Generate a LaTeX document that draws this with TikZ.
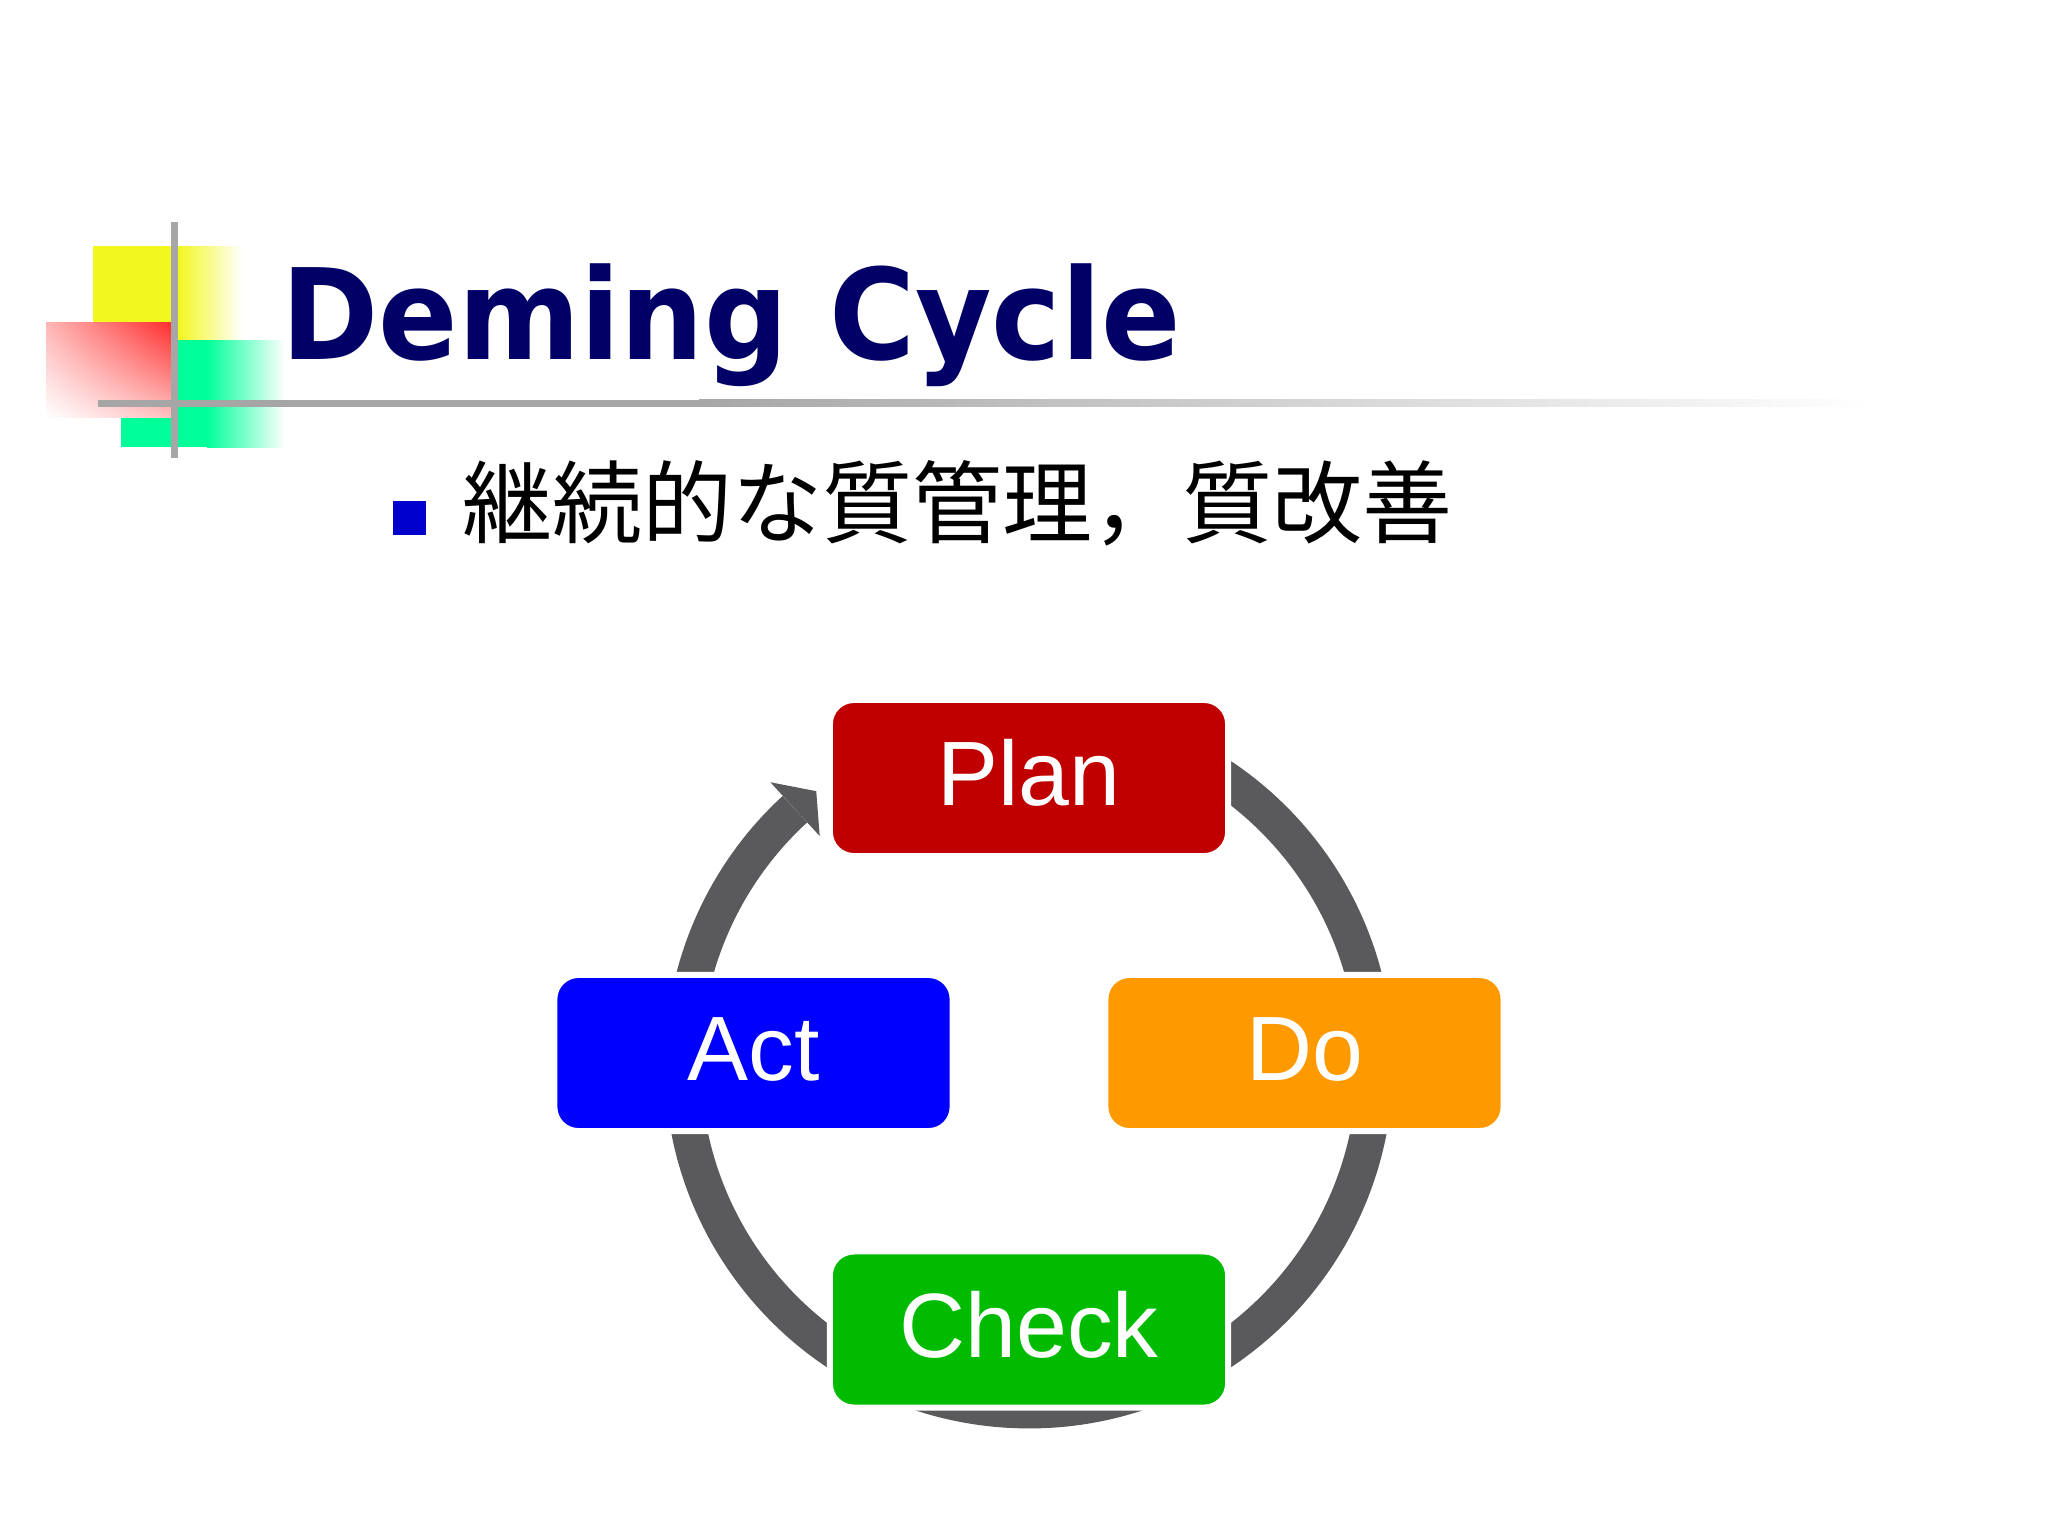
\documentclass[tikz,border=0pt]{standalone}
\usepackage{fontspec}
\setmainfont{Liberation Sans}
\newfontfamily\titlefont{DejaVu Sans}
\newfontfamily\jpfont{Noto Sans CJK JP}
\usetikzlibrary{calc,shadings}
\definecolor{titleblue}{RGB}{0,0,102}
\definecolor{linegray}{RGB}{166,166,166}
\definecolor{ringgray}{RGB}{90,89,91}
\definecolor{plancol}{RGB}{192,0,0}
\definecolor{actcol}{RGB}{0,0,255}
\definecolor{docol}{RGB}{255,153,0}
\definecolor{checkcol}{RGB}{0,187,0}
\definecolor{bulletblue}{RGB}{0,0,204}
\definecolor{decoyellow}{RGB}{242,247,30}
\definecolor{decogreen}{RGB}{0,255,153}
\definecolor{decored}{RGB}{255,45,45}
\tikzset{
  stagebox/.style={rectangle, rounded corners=0.24cm, draw=white, line width=0.06cm,
    minimum width=3.98cm, minimum height=1.56cm, inner sep=0pt, text=white,
    font=\fontsize{26pt}{30pt}\selectfont, text height=0.65cm, text depth=0.1cm},
  ring/.style={ringgray, line width=0.36cm},
  grayrule/.style={linegray}
}
\begin{document}
\begin{tikzpicture}[x=0.01cm, y=0.01cm]
\useasboundingbox (0,0) rectangle (2048,-1536);
\fill[white] (0,0) rectangle (2048,-1536);
% decoration
\fill[decoyellow] (93,-246) rectangle (179,-340);
\shade[left color=decoyellow, right color=white] (178,-246) rectangle (242,-340);
\fill[decogreen] (121,-340) rectangle (208,-447);
\shade[left color=decogreen, right color=white] (207,-340) rectangle (285,-447);
\shade[upper left=decored!35!white, upper right=decored, lower left=white, lower right=decored!30!white] (46,-322) rectangle (171,-417);
\fill[grayrule] (98,-399.5) rectangle (700,-406.5);
\shade[left color=linegray, right color=white] (699,-399.5) rectangle (1870,-406.5);
\fill[grayrule] (170.5,-222) rectangle (177.5,-458);
% title
\node[anchor=base west, inner sep=0, xscale=0.93, text=titleblue,
  font=\titlefont\bfseries\fontsize{35.85pt}{40pt}\selectfont] (title) at (281,-359) {Deming Cycle};
\node[fill=bulletblue, minimum width=0.33cm, minimum height=0.34cm, inner sep=0] (bullet) at (409.5,-518) {};
\node[anchor=base west, inner sep=0, font=\jpfont\fontsize{25.6pt}{30pt}\selectfont] (sub) at (462,-536) {継続的な質管理，質改善};
% ring
\coordinate (c) at (1029,-1064);
\draw[ring] ($(c)+(88:346)$) arc[start angle=88, end angle=-227.45, radius=3.46cm];
\fill[ringgray] ($(c)+(132.55:382.5)$) -- ($(c)+(127.95:346)$) -- ($(c)+(132.55:309.5)$) -- cycle;
% boxes
\node[stagebox, fill=plancol] (plan) at (1029,-778) {Plan};
\node[stagebox, fill=actcol] (act) at (753.5,-1053) {Act};
\node[stagebox, fill=docol] (do) at (1304.5,-1053) {Do};
\node[stagebox, fill=checkcol] (check) at (1029,-1329.5) {Check};
\end{tikzpicture}
\end{document}
